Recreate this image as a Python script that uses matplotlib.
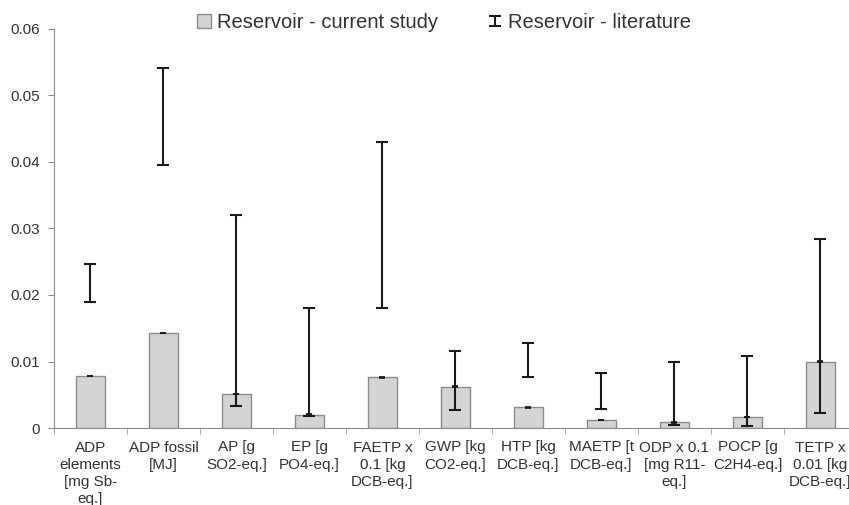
import matplotlib
matplotlib.use("Agg")
import matplotlib.pyplot as plt
from matplotlib.container import ErrorbarContainer
from matplotlib.legend_handler import HandlerErrorbar
import numpy as np

plt.rcParams['font.family'] = ['Liberation Sans', 'DejaVu Sans']

categories = ["ADP\nelements\n[mg Sb-\neq.]", "ADP fossil\n[MJ]", "AP [g\nSO2-eq.]",
              "EP [g\nPO4-eq.]", "FAETP x\n0.1 [kg\nDCB-eq.]", "GWP [kg\nCO2-eq.]",
              "HTP [kg\nDCB-eq.]", "MAETP [t\nDCB-eq.]", "ODP x 0.1\n[mg R11-\neq.]",
              "POCP [g\nC2H4-eq.]", "TETP x\n0.01 [kg\nDCB-eq.]"]
current = [0.0078, 0.0143, 0.0051, 0.0020, 0.0076, 0.0062, 0.0031, 0.0012, 0.00085, 0.00165, 0.0100]
current_err = [0.00005] * 11
lit_low = [0.0189, 0.0396, 0.0033, 0.0018, 0.0180, 0.0027, 0.0076, 0.0028, 0.0004, 0.00025, 0.0023]
lit_high = [0.0247, 0.0542, 0.0320, 0.0180, 0.0430, 0.0116, 0.0128, 0.0082, 0.0100, 0.0109, 0.0284]
yticks = [0, 0.01, 0.02, 0.03, 0.04, 0.05, 0.06]
ytick_labels = ["0", "0.01", "0.02", "0.03", "0.04", "0.05", "0.06"]

fig = plt.figure(figsize=(8.49, 5.05), dpi=100)
ax = fig.add_axes([54/849, (505-428)/505, 803/849, 399/505])

x = np.arange(len(categories))
ax.bar(x, current, width=0.4, color='#d4d4d4', edgecolor='#8c8c8c', linewidth=1.0,
       label='Reservoir - current study', zorder=2)
ax.errorbar(x, current, yerr=current_err, fmt='none', ecolor='#1a1a1a', elinewidth=1.2,
            capsize=2, capthick=1.2, zorder=3)
lo = np.array(lit_low)
hi = np.array(lit_high)
mid = (lo + hi) / 2
ax.errorbar(x, mid, yerr=[mid - lo, hi - mid], fmt='none', ecolor='#1a1a1a', elinewidth=1.5,
            capsize=4, capthick=1.5, zorder=4, label='Reservoir - literature')

ax.set_xlim(-0.5, len(categories) - 0.5)
ax.set_ylim(0, 0.06)
ax.set_yticks(yticks)
ax.set_yticklabels(ytick_labels)
ax.set_xticks(x)
ax.set_xticklabels(categories, fontsize=11, color='#333333', linespacing=1.3,
                   multialignment='center')
ax.set_xticks(np.arange(-0.5, len(categories) + 0.5, 1), minor=True)
ax.tick_params(axis='x', which='major', length=0, pad=9)
ax.tick_params(axis='x', which='minor', length=4, color='#a0a0a0', direction='out')
ax.tick_params(axis='y', length=4, color='#8c8c8c', labelsize=11, labelcolor='#333333', pad=6)
for s in ['top', 'right']:
    ax.spines[s].set_visible(False)
ax.spines['left'].set_color('#8c8c8c')
ax.spines['bottom'].set_color('#8c8c8c')

leg = fig.legend(loc='upper center', bbox_to_anchor=(0.523, 1.01), ncol=2, frameon=False,
                 fontsize=14.5, labelcolor='#333333', handlelength=0.7, handleheight=0.7,
                 handletextpad=0.3, columnspacing=2.5,
                 handler_map={ErrorbarContainer: HandlerErrorbar(xerr_size=0.3, yerr_size=0.25)})

fig.savefig('out.png', dpi=100)
